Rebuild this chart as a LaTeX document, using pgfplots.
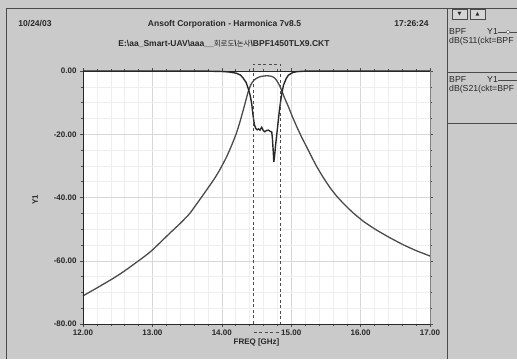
\documentclass[border=0pt]{standalone}
\usepackage{pgfplots}
\pgfplotsset{compat=1.18}
\usepackage{fontspec}
\setmainfont{Liberation Sans}
\newfontfamily\kr{Noto Sans CJK KR}
\newfontfamily\dv{DejaVu Sans}
\definecolor{bg}{RGB}{202,202,202}
\definecolor{ink}{RGB}{40,40,40}
\definecolor{inkb}{RGB}{75,75,75}
\definecolor{gridc}{RGB}{238,238,238}
\definecolor{gridm}{RGB}{215,215,215}
\begin{document}
\begin{tikzpicture}[x=1pt,y=1pt]
\clip (0,0) rectangle (517,359);
\fill[bg] (0,0) rectangle (517,359);
% window frame
\draw[inkb, line width=0.6pt] (6,0) -- (6,351) -- (517,351);
\draw[inkb, line width=0.6pt] (447,0) -- (447,351);
\draw[inkb, line width=0.6pt] (447,287) -- (517,287);
\draw[inkb, line width=0.6pt] (447,236) -- (517,236);
% buttons
\draw[inkb, fill=bg!80!white, line width=0.4pt] (452,340) rectangle (467,350);
\draw[inkb, fill=bg!80!white, line width=0.4pt] (470,340) rectangle (485,350);
\node[font=\dv\fontsize{5}{6}\selectfont, text=ink] at (459.5,345) {▼};
\node[font=\dv\fontsize{5}{6}\selectfont, text=ink] at (477.5,345) {▲};
% header
\node[font=\fontsize{8.5}{10}\selectfont\bfseries, text=ink] at (35,335) {10/24/03};
\node[font=\fontsize{8.5}{10}\selectfont\bfseries, text=ink] at (224.5,335) {Ansoft Corporation - Harmonica 7v8.5};
\node[font=\fontsize{8.5}{10}\selectfont\bfseries, text=ink] at (411.5,335) {17:26:24};
\node[font=\fontsize{8.5}{10}\selectfont\bfseries, text=ink] at (224,315) {E:\textbackslash aa\_Smart-UAV\textbackslash aaa\_\_{\kr\mdseries\fontsize{7.5}{8}\selectfont 회로도}\textbackslash{\kr\mdseries\fontsize{7.5}{8}\selectfont 논사}\textbackslash BPF1450TLX9.CKT};
% legend panel
\node[font=\fontsize{8.7}{10}\selectfont, text=ink, anchor=west, inner sep=0pt] at (449,327) {BPF};
\node[font=\fontsize{8.7}{10}\selectfont, text=ink, anchor=west, inner sep=0pt] at (487,327) {Y1};
\draw[inkb, line width=0.5pt] (498,327) -- (517,327);
\draw[inkb, fill=white, line width=0.4pt] (508,327) circle (1.8);
\node[font=\fontsize{8.7}{10}\selectfont, text=ink, anchor=west, inner sep=0pt] at (449,318) {dB(S11(ckt=BPF};
\node[font=\fontsize{8.7}{10}\selectfont, text=ink, anchor=west, inner sep=0pt] at (449,279) {BPF};
\node[font=\fontsize{8.7}{10}\selectfont, text=ink, anchor=west, inner sep=0pt] at (487,279) {Y1};
\draw[inkb, line width=0.5pt] (498,279) -- (517,279);
\node[font=\fontsize{8.7}{10}\selectfont, text=ink, anchor=west, inner sep=0pt] at (449,270) {dB(S21(ckt=BPF};
% axis labels
\node[font=\fontsize{8}{9}\selectfont\bfseries, text=ink, rotate=90] at (35,159) {Y1};
\node[font=\fontsize{8}{9}\selectfont\bfseries, text=ink] at (256.5,16.3) {FREQ [GHz]};
\begin{axis}[
  at={(83pt,35pt)}, anchor=south west,
  scale only axis, width=347pt, height=253pt,
  xmin=12, xmax=17, ymin=-80, ymax=0,
  xtick={12,13,14,15,16,17},
  xticklabels={12.00,13.00,14.00,15.00,16.00,17.00},
  ytick={-80,-60,-40,-20,0},
  yticklabels={-80.00,-60.00,-40.00,-20.00,0.00},
  minor x tick num=4, minor y tick num=3,
  grid=both,
  major grid style={gridm, line width=0.5pt},
  minor grid style={gridc, line width=0.4pt},
  axis background/.style={fill=white},
  axis line style={draw=none},
  tick align=outside, major tick length=3pt, minor tick length=2pt,
  tick style={inkb, line width=0.4pt},
  ticklabel style={font=\fontsize{8}{9}\selectfont\bfseries, text=ink},
  xticklabel style={yshift=1pt},
  clip=false,
]
% S21
\addplot[inkb, line width=1.3pt, smooth, tension=0.3] coordinates {
(12.00,-71.1)(12.20,-68.6)(12.44,-65.5)(12.60,-63.2)(12.87,-58.9)(13.00,-56.6)
(13.25,-51.3)(13.40,-48.2)(13.54,-45.0)(13.73,-39.2)(13.88,-34.5)(13.97,-31.3)
(14.07,-27.1)(14.14,-23.6)(14.21,-19.7)(14.26,-16.2)(14.31,-12.3)(14.35,-9.0)
(14.38,-6.6)(14.41,-4.8)(14.43,-3.9)(14.46,-3.0)(14.50,-2.3)(14.55,-1.8)
(14.60,-1.6)(14.65,-1.5)(14.70,-1.6)(14.74,-1.9)(14.77,-2.4)(14.80,-3.3)
(14.83,-4.5)(14.86,-6.0)(14.90,-8.3)(14.96,-11.3)(15.02,-14.6)(15.08,-17.6)
(15.15,-20.9)(15.22,-23.9)(15.30,-27.4)(15.37,-30.3)(15.46,-33.6)(15.56,-36.9)
(15.66,-39.7)(15.78,-42.5)(15.90,-45.0)(16.05,-47.7)(16.23,-50.3)(16.42,-52.7)
(16.62,-55.0)(16.80,-56.8)(17.00,-58.5)};
% S11
\addplot[ink, line width=1.4pt] coordinates {
(12.00,0.0)(13.60,-0.02)(13.80,-0.05)(14.00,-0.15)(14.10,-0.3)(14.21,-0.7)
(14.27,-1.3)(14.31,-2.3)(14.35,-3.6)(14.38,-5.5)(14.41,-7.8)(14.43,-10.2)
(14.45,-14.0)(14.47,-17.0)(14.49,-18.2)(14.51,-18.6)(14.53,-18.3)(14.55,-18.7)
(14.575,-17.8)(14.60,-18.9)(14.62,-19.2)(14.645,-18.8)(14.67,-18.7)(14.70,-19.1)
(14.72,-19.3)(14.73,-21.5)(14.74,-25.0)(14.75,-28.7)(14.76,-27.0)(14.775,-23.5)
(14.79,-20.5)(14.81,-16.5)(14.83,-12.5)(14.85,-9.2)(14.87,-6.5)(14.89,-4.4)
(14.93,-2.3)(14.96,-1.3)(15.02,-0.5)(15.08,-0.2)(15.20,-0.05)(15.40,-0.01)(17.00,0.0)};
% marker bracket
\addplot[inkb, line width=0.7pt, dash pattern=on 3pt off 2.5pt] coordinates {(14.46,-80)(14.46,2.2)(14.845,2.2)(14.845,-80)};
\addplot[inkb, line width=0.7pt, dash pattern=on 3pt off 2.5pt] coordinates {(14.46,-82.6)(14.845,-82.6)};
% axis frame
\draw[ink, line width=0.9pt] (rel axis cs:0,0) -- (rel axis cs:0,1) -- (rel axis cs:1,1);
\draw[ink, line width=0.9pt] (rel axis cs:0,0) -- (rel axis cs:1,0);
\draw[gray, line width=0.5pt] (rel axis cs:1,0) -- (rel axis cs:1,1);
\end{axis}
\end{tikzpicture}
\end{document}
